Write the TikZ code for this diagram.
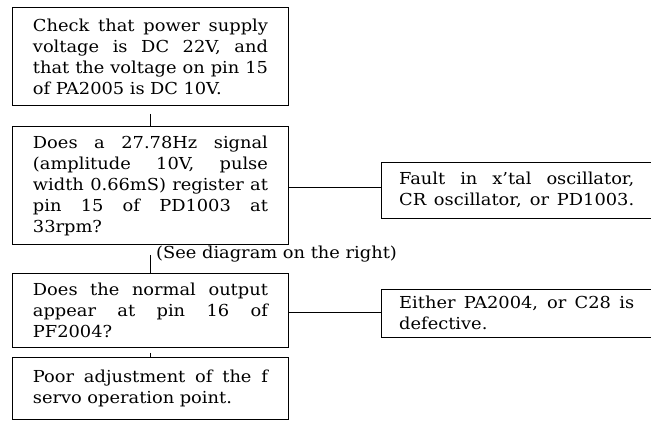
\documentclass[tikz,border=0pt]{standalone}
\usepackage{fontspec}
\setmainfont[FakeStretch=1.08]{DejaVu Serif}
\newcommand{\jl}[1]{\makebox[235pt][s]{\spaceskip=0.33em plus 1fil minus 0.12em\xspaceskip=0.33em plus 1fil minus 0.12em\relax #1}}
\tikzset{
  txt/.style={font=\fontsize{16.5}{21}\selectfont},
  box/.style={txt, draw, line width=0.9pt, rectangle, anchor=north west,
    text width=235pt, align=left, inner xsep=20.5pt, inner ysep=0pt},
  rbox/.style={txt, rectangle, anchor=north west,
    text width=235pt, align=left, inner xsep=18pt, inner ysep=0pt},
  conn/.style={line width=1pt},
}
\begin{document}
\begin{tikzpicture}[x=1pt,y=-1pt]
\useasboundingbox (0,0) rectangle (651,421);
\node[box, minimum height=98pt] (b1) at (12,7)
  {\jl{Check that power supply}\\ \jl{voltage is DC 22V, and}\\ \jl{that the voltage on pin 15}\\ of PA2005 is DC 10V.};
\node[box, minimum height=118pt] (b2) at (12,126)
  {\jl{Does a 27.78Hz signal}\\ \jl{(amplitude 10V, pulse}\\ \jl{width 0.66mS) register at}\\ \jl{pin 15 of PD1003 at}\\ 33rpm?};
\node[box, minimum height=74pt] (b3) at (12,273)
  {\jl{Does the normal output}\\ \jl{appear at pin 16 of}\\ PF2004?};
\node[box, minimum height=62pt] (b4) at (12,357)
  {\jl{Poor adjustment of the f}\\ servo operation point.};
\node[rbox, minimum height=56pt] (r1) at (381,162)
  {\jl{Fault in x'tal oscillator,}\\ \jl{CR oscillator, or PD1003.}};
\node[rbox, minimum height=48pt] (r2) at (381,289)
  {\jl{Either PA2004, or C28 is}\\ defective.};
\draw[line width=0.9pt] (r1.north east) -- (r1.north west) -- (r1.south west) -- (r1.south east);
\draw[line width=0.9pt] (r2.north east) -- (r2.north west) -- (r2.south west) -- (r2.south east);
\node[txt, anchor=west, inner sep=0pt] (note) at (156,254) {(See diagram on the right)};
\draw[conn, shorten <=8pt] (b1.south) -- (b2.north);
\draw[conn, shorten <=10pt] (b2.south) -- (b3.north);
\draw[conn, shorten <=5pt] (b3.south) -- (b4.north);
\draw[conn] (b2.east |- 0,187) -- (r1.west |- 0,187);
\draw[conn] (b3.east |- 0,312) -- (r2.west |- 0,312);
\end{tikzpicture}
\end{document}
